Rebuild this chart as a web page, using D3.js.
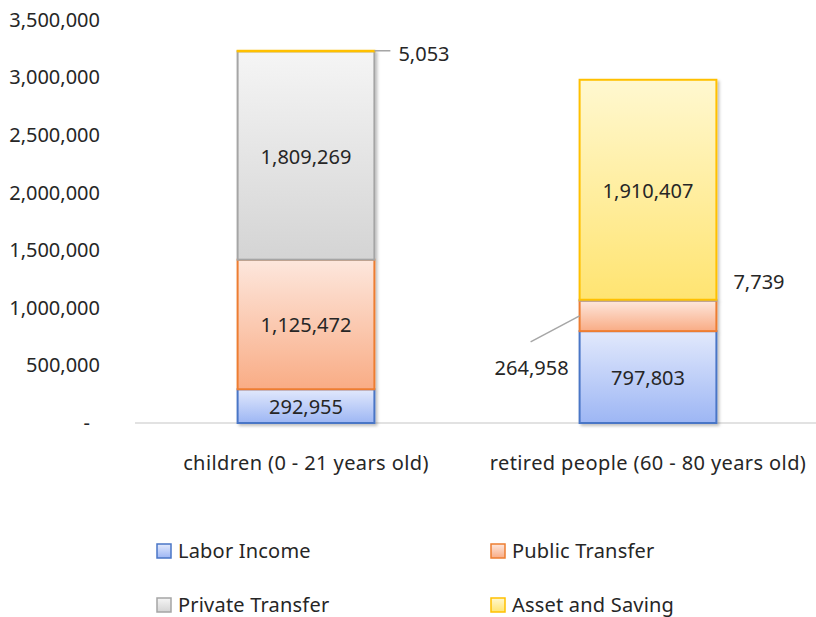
<!DOCTYPE html>
<html>
<head>
<meta charset="utf-8">
<script src="https://cdn.jsdelivr.net/npm/d3@7"></script>
<style>
  body { margin: 0; background: #fff; }
  text { font-family: "Noto Sans", sans-serif; fill: #262626; }
</style>
</head>
<body>
<div id="chart"></div>
<script>
// data
var categories = ["children (0 - 21 years old)", "retired people (60 - 80 years old)"];
var seriesNames = ["Labor Income", "Public Transfer", "Private Transfer", "Asset and Saving"];
var laborIncome = [292955, 797803];
var publicTransfer = [1125472, 264958];
var privateTransfer = [1809269, 7739];
var assetSaving = [5053, 1910407];
var yTicks = [0, 500000, 1000000, 1500000, 2000000, 2500000, 3000000, 3500000];

var w = 816, h = 617;
var fontSize = "20px";
var colors = [
    {top: "#e2e9fc", bottom: "#9db6f4", stroke: "#4a76c6"},
    {top: "#fde7dd", bottom: "#f9ac85", stroke: "#ed7d31"},
    {top: "#f5f5f5", bottom: "#d4d4d4", stroke: "#a5a5a5"},
    {top: "#fff8d0", bottom: "#ffe471", stroke: "#ffc000"}
];

var svg = d3.select("#chart").append("svg")
    .attr("width", w)
    .attr("height", h);

var defs = svg.append("defs");
colors.forEach(function(c, i) {
    var g = defs.append("linearGradient").attr("id", "grad" + i)
        .attr("x1", 0).attr("y1", 0).attr("x2", 0).attr("y2", 1);
    g.append("stop").attr("offset", "0%").attr("stop-color", c.top);
    g.append("stop").attr("offset", "100%").attr("stop-color", c.bottom);
});
var f = defs.append("filter").attr("id", "shadow")
    .attr("x", "-10%").attr("y", "-10%").attr("width", "130%").attr("height", "130%");
f.append("feDropShadow").attr("dx", 2).attr("dy", 2).attr("stdDeviation", 1.5)
    .attr("flood-color", "#000").attr("flood-opacity", 0.25);

var xScale = d3.scaleBand()
    .domain(categories)
    .range([135, 819])
    .paddingInner(0.6)
    .paddingOuter(0.3);

var yScale = d3.scaleLinear()
    .domain([0, 3500000])
    .range([423, 20]);

// y axis
var yAxis = d3.axisLeft(yScale)
    .tickValues(yTicks)
    .tickSize(0)
    .tickPadding(35)
    .tickFormat(function(d) { return d === 0 ? "-" : d3.format(",")(d); });

var yAxisGroup = svg.append("g")
    .attr("transform", "translate(" + [135, 0] + ")")
    .call(yAxis);
yAxisGroup.select(".domain").remove();
yAxisGroup.selectAll("text")
    .style("font-size", fontSize)
    .style("font-family", "Noto Sans, sans-serif")
    .attr("fill", "#262626")
    .attr("dx", function(d) { return d === 0 ? -10 : 0; });

// baseline
svg.append("line")
    .attr("x1", 135).attr("x2", 816)
    .attr("y1", yScale(0)).attr("y2", yScale(0))
    .attr("stroke", "#d9d9d9").attr("stroke-width", 1.5);

// stack
var table = categories.map(function(c, i) {
    return {cat: c, "Labor Income": laborIncome[i], "Public Transfer": publicTransfer[i],
        "Private Transfer": privateTransfer[i], "Asset and Saving": assetSaving[i]};
});
var stacked = d3.stack().keys(seriesNames)(table);

var barGroup = svg.append("g").attr("filter", "url(#shadow)");
stacked.forEach(function(layer, si) {
    barGroup.selectAll(".s" + si).data(layer)
        .enter().append("rect")
        .attr("class", "s" + si)
        .attr("x", function(d) { return xScale(d.data.cat); })
        .attr("y", function(d) { return yScale(d[1]); })
        .attr("width", xScale.bandwidth())
        .attr("height", function(d) { return yScale(d[0]) - yScale(d[1]); })
        .attr("fill", "url(#grad" + si + ")")
        .attr("stroke", colors[si].stroke)
        .attr("stroke-width", 2);
});

// labels
var fmt = d3.format(",");
var labelGroup = svg.append("g").style("font-size", fontSize);
function cx(i) { return xScale(categories[i]) + xScale.bandwidth() / 2; }
function mid(si, i) { var d = stacked[si][i]; return yScale((d[0] + d[1]) / 2); }

// inside labels
[[0, 0], [1, 0], [2, 0], [0, 1], [3, 1]].forEach(function(p) {
    labelGroup.append("text")
        .attr("x", cx(p[1]))
        .attr("y", mid(p[0], p[1]) + 1)
        .attr("dy", "0.35em")
        .attr("text-anchor", "middle")
        .text(fmt(stacked[p[0]][p[1]].data[seriesNames[p[0]]]));
});

// 5,053 with leader
var topY = yScale(stacked[3][0][1]);
var rightX = xScale(categories[0]) + xScale.bandwidth();
svg.append("line")
    .attr("x1", rightX).attr("x2", rightX + 16)
    .attr("y1", topY).attr("y2", topY)
    .attr("stroke", "#a6a6a6").attr("stroke-width", 1.5);
labelGroup.append("text")
    .attr("x", rightX + 24).attr("y", topY + 3)
    .attr("dy", "0.35em")
    .text(fmt(assetSaving[0]));

// 264,958 with leader
var leftX = xScale(categories[1]);
var pY = mid(1, 1);
svg.append("line")
    .attr("x1", leftX).attr("y1", pY)
    .attr("x2", leftX - 49).attr("y2", pY + 26)
    .attr("stroke", "#a6a6a6").attr("stroke-width", 1.5);
labelGroup.append("text")
    .attr("x", leftX - 11).attr("y", pY + 52)
    .attr("dy", "0.35em")
    .attr("text-anchor", "end")
    .text(fmt(publicTransfer[1]));

// 7,739 label
labelGroup.append("text")
    .attr("x", leftX + xScale.bandwidth() + 17)
    .attr("y", yScale(stacked[2][1][1]) - 18)
    .attr("dy", "0.35em")
    .text(fmt(privateTransfer[1]));

// category labels
svg.append("g").selectAll("text").data(categories)
    .enter().append("text")
    .attr("x", function(d, i) { return cx(i); })
    .attr("y", 463)
    .attr("dy", "0.35em")
    .attr("text-anchor", "middle")
    .style("font-size", fontSize)
    .style("letter-spacing", "0.4px")
    .text(function(d) { return d; });

// legend
var legendPos = [[157, 551], [491, 551], [157, 605], [491, 605]];
var legend = svg.append("g").selectAll("g").data(seriesNames)
    .enter().append("g")
    .attr("transform", function(d, i) { return "translate(" + legendPos[i] + ")"; });
legend.append("rect")
    .attr("x", 0).attr("y", -7)
    .attr("width", 14).attr("height", 14)
    .attr("fill", function(d, i) { return "url(#grad" + i + ")"; })
    .attr("stroke", function(d, i) { return colors[i].stroke; })
    .attr("stroke-width", 1.5);
legend.append("text")
    .attr("x", 21).attr("y", 0)
    .attr("dy", "0.35em")
    .style("font-size", fontSize)
    .style("letter-spacing", "0.2px")
    .text(function(d) { return d; });
</script>
</body>
</html>
